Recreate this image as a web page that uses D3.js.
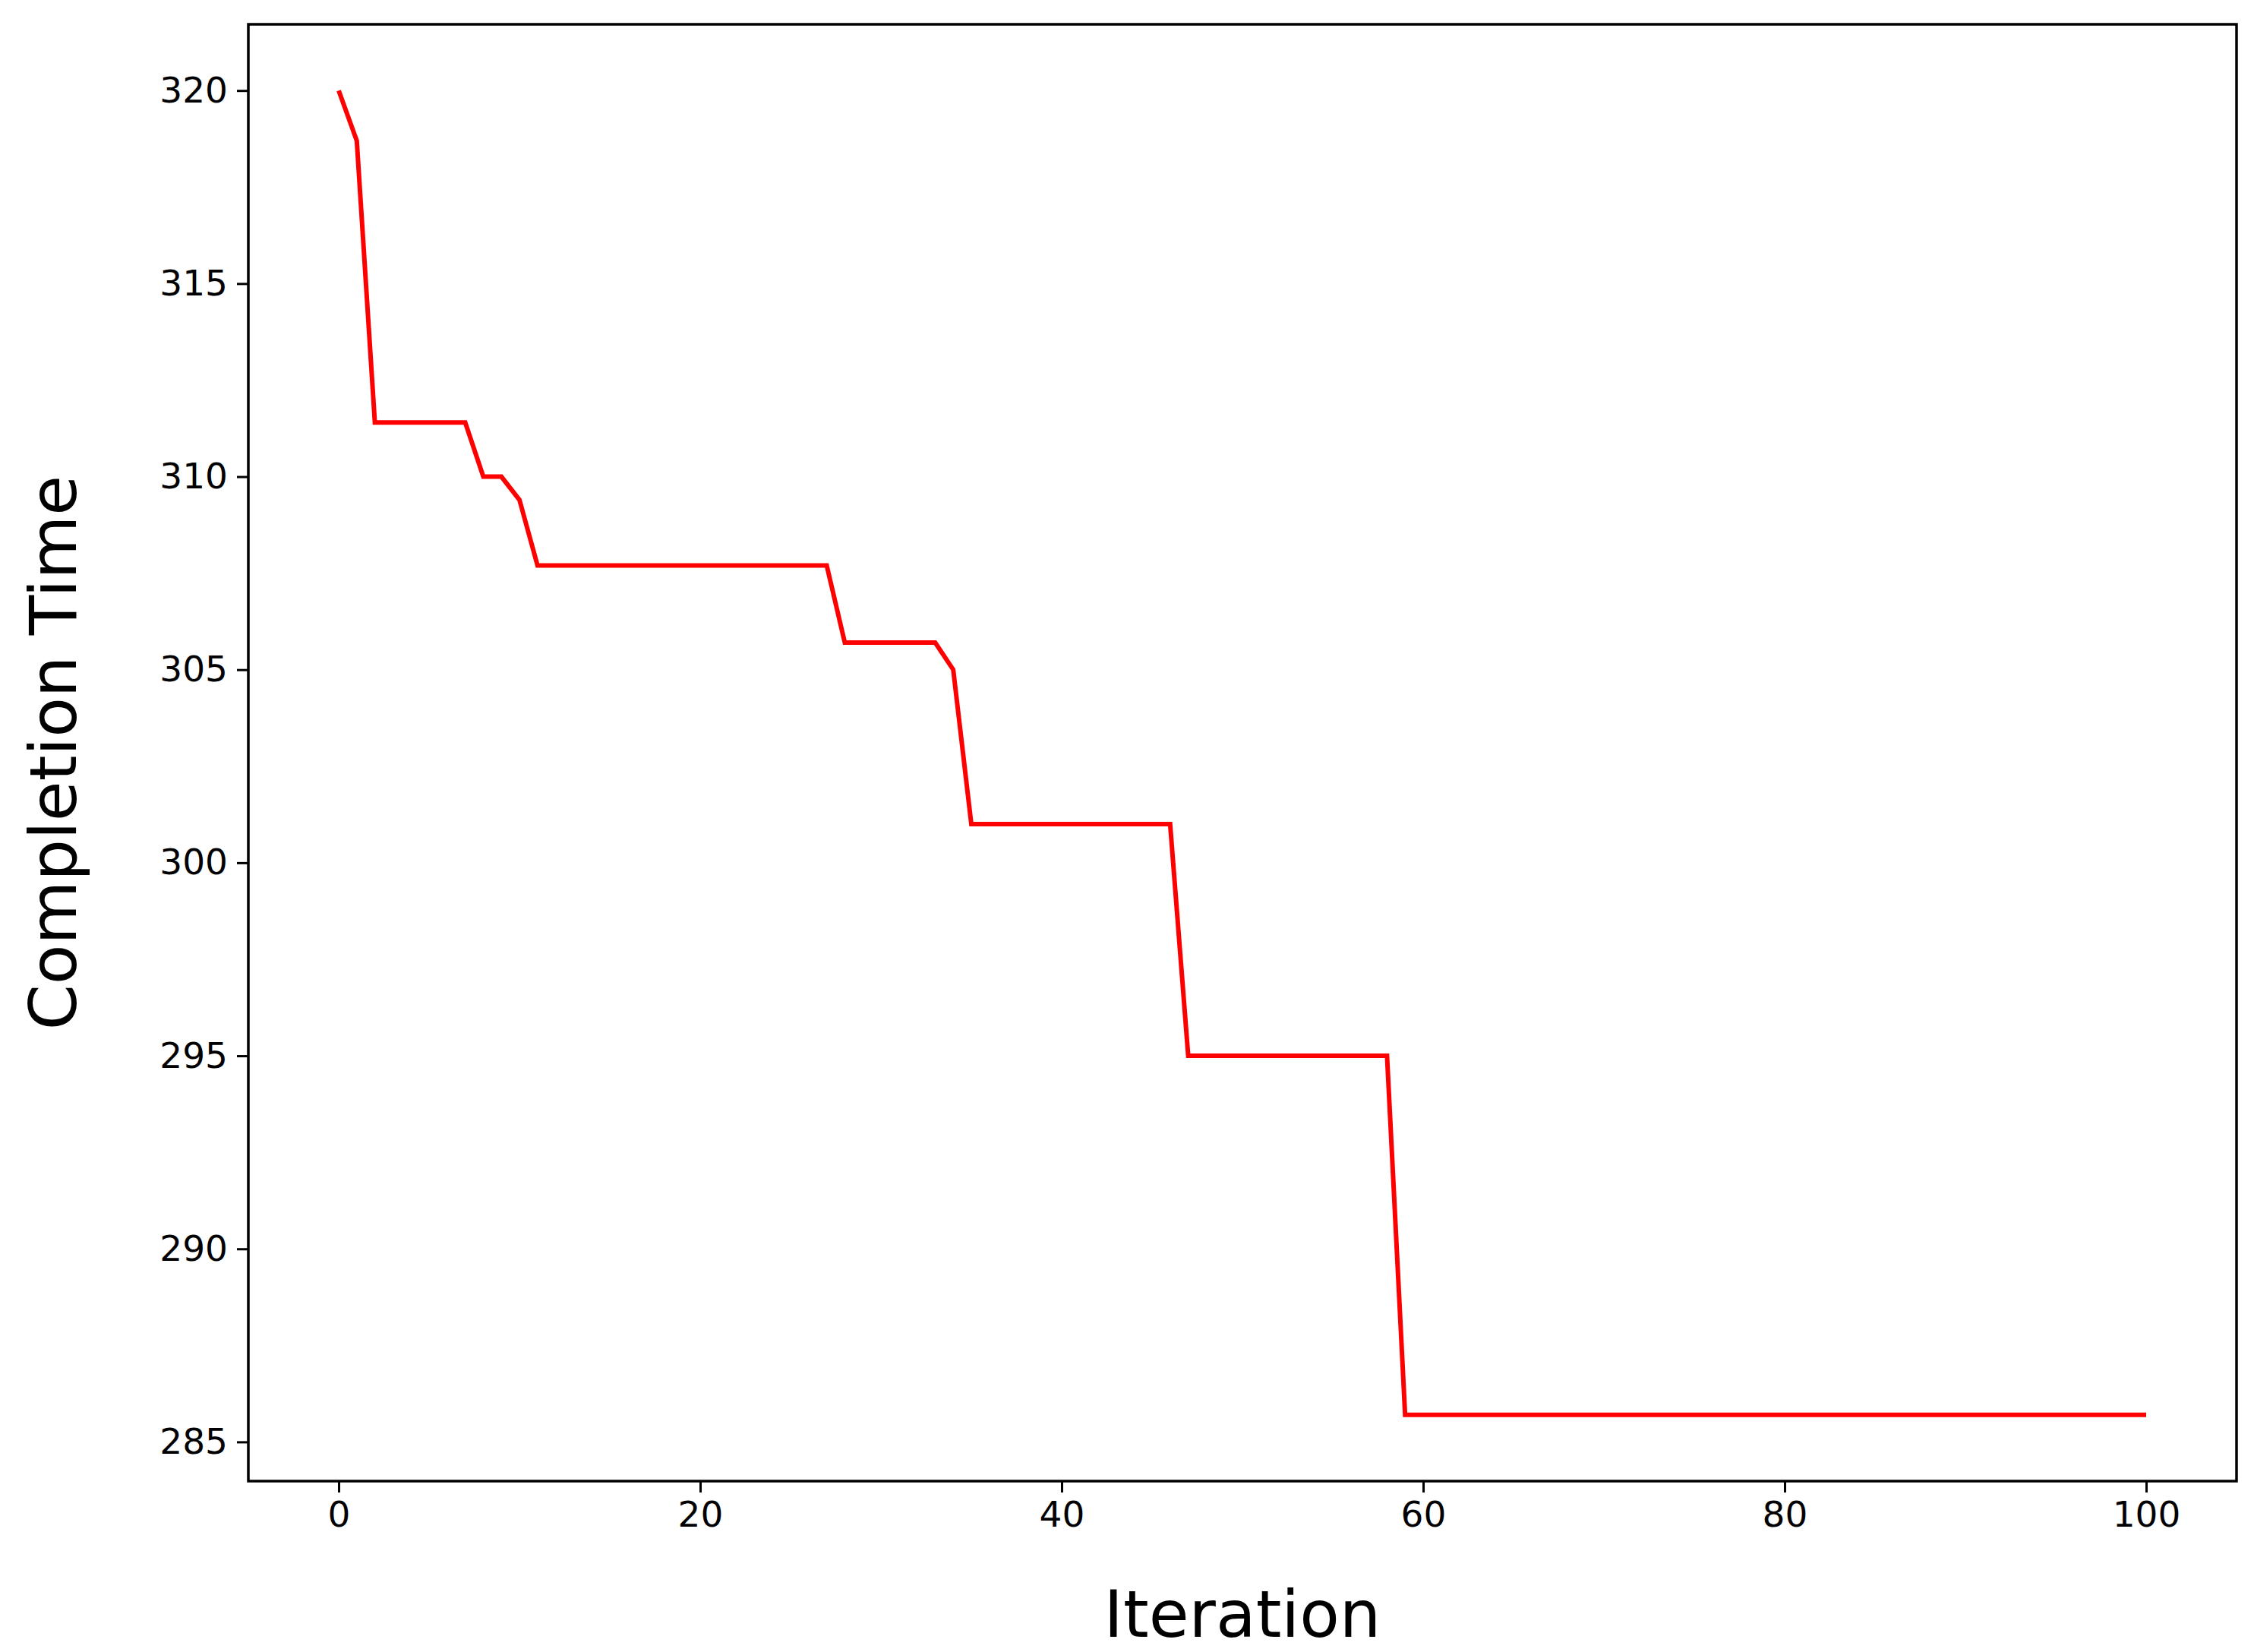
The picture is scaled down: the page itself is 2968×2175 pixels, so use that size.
<!DOCTYPE html>
<html><head><meta charset="utf-8">
<script src="https://cdn.jsdelivr.net/npm/d3@7"></script>
<style>body{margin:0;background:#fff}</style></head>
<body><svg id="c" width="2968" height="2175"></svg>
<script>
const iterations = d3.range(0,101);
const completionTime = [320,318.7,311.4,311.4,311.4,311.4,311.4,311.4,310.0,310.0,309.4,
307.7,307.7,307.7,307.7,307.7,307.7,307.7,307.7,307.7,307.7,307.7,307.7,307.7,307.7,307.7,307.7,307.7,
305.7,305.7,305.7,305.7,305.7,305.7,305.0,
301.0,301.0,301.0,301.0,301.0,301.0,301.0,301.0,301.0,301.0,301.0,301.0,
295.0,295.0,295.0,295.0,295.0,295.0,295.0,295.0,295.0,295.0,295.0,295.0,
285.7,285.7,285.7,285.7,285.7,285.7,285.7,285.7,285.7,285.7,285.7,285.7,285.7,285.7,285.7,285.7,285.7,285.7,285.7,285.7,285.7,285.7,285.7,285.7,285.7,285.7,285.7,285.7,285.7,285.7,285.7,285.7,285.7,285.7,285.7,285.7,285.7,285.7,285.7,285.7,285.7,285.7];
const xTicks=[0,20,40,60,80,100];
const yTicks=[285,290,295,300,305,310,315,320];
const L=327,R=2945,T=32,B=1950;
const svg=d3.select("#c");
const x=d3.scaleLinear().domain([-5,105]).range([L,R]);
const yMin=d3.min(completionTime),yMax=d3.max(completionTime),m=(yMax-yMin)*0.05;
const y=d3.scaleLinear().domain([yMin-m,yMax+m]).range([B,T]);
const font="DejaVu Sans, sans-serif";
const xa=svg.append("g").attr("transform",`translate(0,${B})`).call(d3.axisBottom(x).tickValues(xTicks).tickSize(15).tickPadding(12));
const ya=svg.append("g").attr("transform",`translate(${L},0)`).call(d3.axisLeft(y).tickValues(yTicks).tickSize(15).tickPadding(12));
[xa,ya].forEach(a=>{a.select(".domain").remove();a.selectAll("line").attr("stroke","#000").attr("stroke-width",3);
a.selectAll("text").attr("font-family",font).attr("font-size",47).attr("fill","#000");});
svg.append("path").datum(iterations).attr("fill","none").attr("stroke","#ff0000").attr("stroke-width",6)
.attr("d",d3.line().x(i=>x(i)).y(i=>y(completionTime[i])));
svg.append("rect").attr("x",L).attr("y",T).attr("width",R-L).attr("height",B-T).attr("fill","none").attr("stroke","#000").attr("stroke-width",3.5);
svg.append("text").attr("x",(L+R)/2).attr("y",2155).attr("text-anchor","middle").attr("font-family",font).attr("font-size",86).text("Iteration");
svg.append("text").attr("transform",`translate(100,${(T+B)/2}) rotate(-90)`).attr("text-anchor","middle").attr("font-family",font).attr("font-size",86).text("Completion Time");
</script></body></html>
